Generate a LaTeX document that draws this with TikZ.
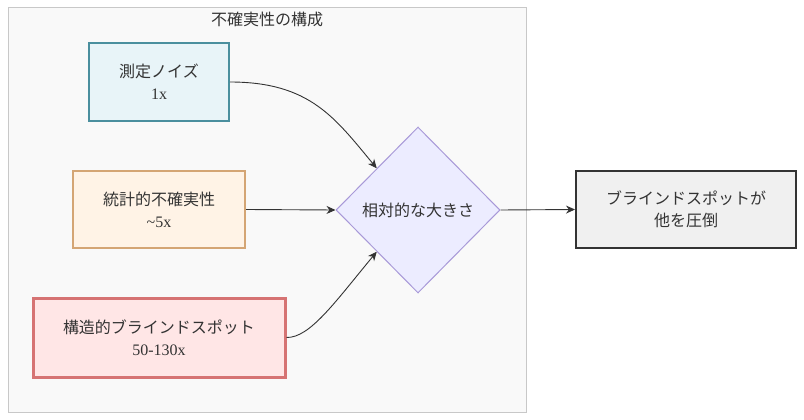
\documentclass[tikz,border=0pt]{standalone}
\usepackage{fontspec}
\setmainfont{Liberation Serif}
\newfontfamily\cjk{Noto Sans CJK JP}
\usetikzlibrary{shapes.geometric,arrows.meta}
\definecolor{txt}{HTML}{333333}
\definecolor{clfill}{HTML}{F9F9F9}
\definecolor{cldraw}{HTML}{C8C8C8}
\definecolor{afill}{HTML}{E8F4F8}
\definecolor{adraw}{HTML}{4A8F9E}
\definecolor{bfill}{HTML}{FFF3E6}
\definecolor{bdraw}{HTML}{D4A574}
\definecolor{cfill}{HTML}{FFE6E6}
\definecolor{cdraw}{HTML}{D67373}
\definecolor{dfill}{HTML}{ECECFF}
\definecolor{ddraw}{HTML}{A899D8}
\definecolor{efill}{HTML}{F0F0F0}
\tikzset{
  box/.style={rectangle, align=center, text=txt, inner sep=0pt,
    font=\fontsize{16}{22}\selectfont},
  conn/.style={draw=txt, line width=0.9pt, -{Stealth[length=9pt,width=8pt]}},
}
\begin{document}
\begin{tikzpicture}[x=1pt,y=-1pt]
\useasboundingbox (0,0) rectangle (804,420);
\fill[white] (0,0) rectangle (804,420);
\draw[fill=clfill, draw=cldraw, line width=1pt] (8,8) rectangle (526,412);
\node[box] (title) at (267,19) {\cjk 不確実性の構成};
\node[box, fill=afill, draw=adraw, line width=2pt, minimum width=140pt, minimum height=78pt] (A) at (159,82) {{\cjk 測定ノイズ}\\1x};
\node[box, fill=bfill, draw=bdraw, line width=2pt, minimum width=172pt, minimum height=77pt] (B) at (159,209.5) {{\cjk 統計的不確実性}\\\textasciitilde5x};
\node[box, fill=cfill, draw=cdraw, line width=3pt, minimum width=252pt, minimum height=79pt] (C) at (159,337.5) {{\cjk 構造的ブラインドスポット}\\50-130x};
\node[box, diamond, aspect=1, fill=dfill, draw=ddraw, line width=1pt, minimum width=164pt, minimum height=166pt] (D) at (418,210) {\cjk 相対的な大きさ};
\node[box, fill=efill, draw=txt, line width=2pt, minimum width=220pt, minimum height=77pt] (E) at (686,209.5) {\cjk ブラインドスポットが\\\cjk 他を圧倒};
\draw[conn] (A.east) .. controls (310,82) and (335,118) .. (D.north west);
\draw[conn] (B.east) -- (D.west);
\draw[conn] (C.east) .. controls (310,338) and (335,302) .. (D.south west);
\draw[conn] (D.east) -- (E.west);
\end{tikzpicture}
\end{document}
